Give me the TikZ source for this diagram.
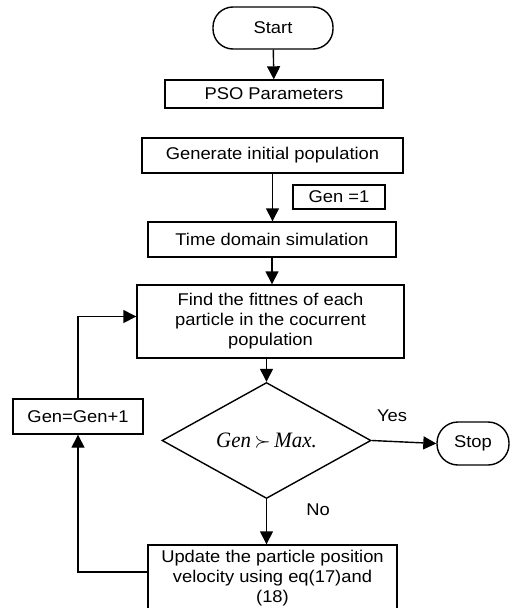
\documentclass[tikz,border=0pt]{standalone}
\usepackage{fontspec}
\setmainfont[FakeStretch=1.08]{Liberation Sans}
\newfontfamily\diafont[FakeStretch=0.95]{Liberation Serif}
\usetikzlibrary{shapes.geometric,arrows.meta,calc}
\begin{document}
\begin{tikzpicture}[x=1pt,y=-1pt,
  every node/.style={font=\fontsize{17}{20}\selectfont, text=black},
  box/.style={draw, line width=1.4pt, inner sep=0pt, align=center},
  pill/.style={box, rounded corners=20pt},
  dec/.style={draw, line width=1.4pt, shape=diamond, inner sep=0pt},
  arr/.style={line width=1.4pt, -{Triangle[length=13pt,width=13pt]}},
  lbl/.style={inner sep=0pt}]
\useasboundingbox (0,0) rectangle (510,608);
\node[pill, minimum width=120pt, minimum height=42pt] (start) at (273,28) {Start};
\node[box, minimum width=218pt, minimum height=28pt] (pso) at (274,94) {PSO Parameters};
\node[box, minimum width=261pt, minimum height=35pt] (gen) at (272.5,155.5) {Generate initial population};
\node[box, minimum width=92pt, minimum height=24pt] (gen1) at (339,197) {Gen =1};
\node[box, minimum width=248pt, minimum height=35pt] (time) at (272,239.5) {Time domain simulation};
\node[box, minimum width=267pt, minimum height=73pt] (find) at (270.5,321.5) {Find the fittnes of each\\particle in the cocurrent\\population};
\node[dec, minimum width=209pt, minimum height=113pt, font=\diafont\itshape\fontsize{22}{24}\selectfont] (cond) at (266.5,440.5) {Gen\,$\succ$\,Max.};
\node[pill, minimum width=72pt, minimum height=43pt, rounded corners=21pt] (stop) at (473,443.5) {Stop};
\node[box, minimum width=249pt, minimum height=66pt] (upd) at (272.5,578) {Update the particle position\\velocity using eq(17)and\\(18)};
\node[box, minimum width=130pt, minimum height=35pt] (gpp) at (78,416.5) {Gen=Gen+1};
\node[lbl] (yes) at (392,416) {Yes};
\node[lbl] (no) at (318,510) {No};
\draw[arr] (start) -- (pso);
\draw[arr] (gen.south) -- (gen.south |- time.north);
\draw[arr] (time.south) -- (time.south |- find.north);
\draw[arr] (find.south) -- (find.south -| cond.north) -- (cond.north);
\draw[arr] (cond.east) -- (stop.west);
\draw[arr] (cond.south) -- (cond.south |- upd.north);
\draw[arr] ($(upd.west)+(0,-6)$) -| (gpp.south);
\draw[arr] (gpp.north) |- ($(find.west)+(0,-5)$);
\end{tikzpicture}
\end{document}
